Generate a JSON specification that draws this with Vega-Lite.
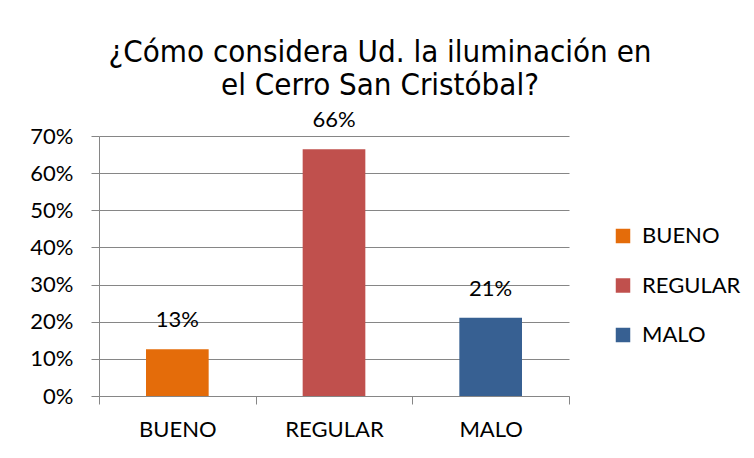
{
  "$schema": "https://vega.github.io/schema/vega-lite/v6.json",
  "autosize": "none",
  "width": 470,
  "height": 260,
  "padding": {"left": 99, "top": 136, "right": 185, "bottom": 62},
  "background": "white",
  "title": {
    "text": ["¿Cómo considera Ud. la iluminación en", "el Cerro San Cristóbal?"],
    "font": "DejaVu Sans Condensed, Liberation Sans, sans-serif",
    "fontSize": 31,
    "fontWeight": "normal",
    "color": "#000000",
    "anchor": "middle",
    "frame": "group",
    "dx": 46,
    "offset": 7,
    "lineHeight": 33
  },
  "data": {
    "values": [
      {"categoria": "BUENO", "porcentaje": 0.126},
      {"categoria": "REGULAR", "porcentaje": 0.664},
      {"categoria": "MALO", "porcentaje": 0.211}
    ]
  },
  "encoding": {
    "x": {
      "field": "categoria",
      "type": "nominal",
      "sort": ["BUENO", "REGULAR", "MALO"],
      "scale": {"paddingInner": 0, "paddingOuter": 0},
      "axis": {
        "title": null,
        "labelAngle": 0,
        "tickBand": "extent",
        "tickSize": 8,
        "labelPadding": 15,
        "domainColor": "#868686",
        "tickColor": "#868686",
        "labelFont": "Lato",
        "labelFontSize": 22,
        "labelColor": "#000000",
        "grid": false
      }
    },
    "y": {
      "field": "porcentaje",
      "type": "quantitative",
      "scale": {"domain": [0, 0.7]},
      "axis": {
        "title": null,
        "values": [0, 0.1, 0.2, 0.3, 0.4, 0.5, 0.6, 0.7],
        "format": ".0%",
        "tickSize": 8,
        "labelPadding": 18,
        "domainColor": "#868686",
        "tickColor": "#868686",
        "gridColor": "#868686",
        "labelFont": "Lato",
        "labelFontSize": 22,
        "labelColor": "#000000"
      }
    }
  },
  "layer": [
    {
      "mark": {"type": "bar", "width": {"band": 0.4}},
      "encoding": {
        "color": {
          "field": "categoria",
          "type": "nominal",
          "sort": ["BUENO", "REGULAR", "MALO"],
          "scale": {"domain": ["BUENO", "REGULAR", "MALO"], "range": ["#E46C0A", "#C0504D", "#376092"]},
          "legend": {
            "title": null,
            "orient": "none",
            "legendX": 513,
            "legendY": 89,
            "symbolType": "square",
            "symbolSize": 210,
            "symbolStrokeWidth": 0,
            "labelFont": "Lato",
            "labelFontSize": 22,
            "labelColor": "#000000",
            "labelOffset": 8,
            "rowPadding": 27.5
          }
        }
      }
    },
    {
      "mark": {"type": "text", "baseline": "bottom", "dy": -17, "font": "Lato", "fontSize": 22, "color": "#000000"},
      "encoding": {
        "text": {"field": "porcentaje", "type": "quantitative", "format": ".0%"}
      }
    }
  ],
  "config": {
    "view": {"stroke": null}
  }
}
